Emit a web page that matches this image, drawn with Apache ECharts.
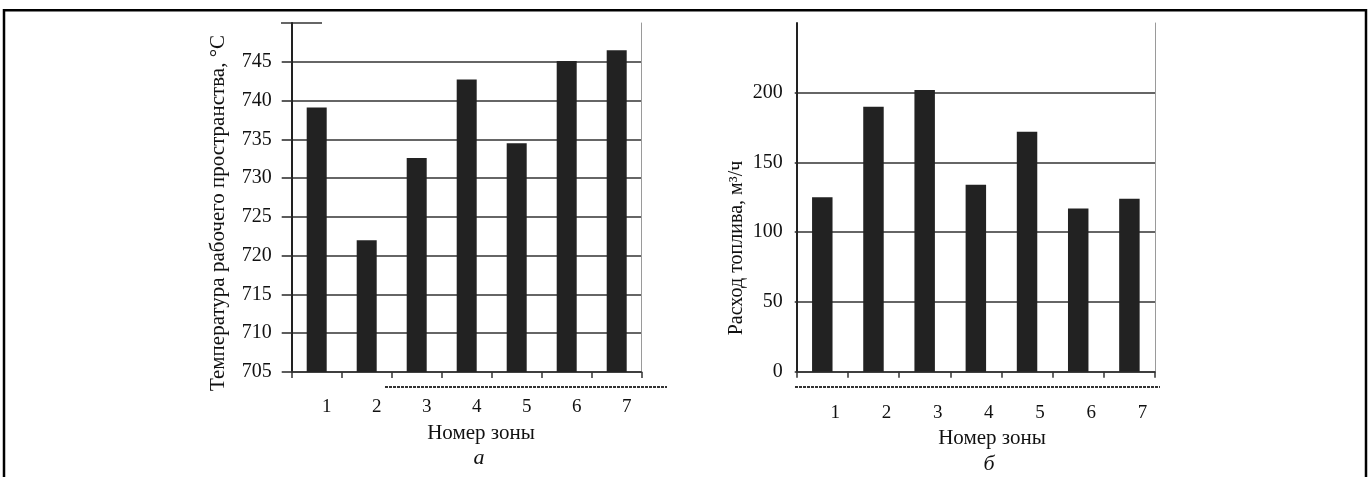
<!DOCTYPE html>
<html>
<head>
<meta charset="utf-8">
<script src="https://cdn.jsdelivr.net/npm/echarts@6/dist/echarts.min.js"></script>
<style>
html,body{margin:0;padding:0;background:#fff;}
#c{width:1369px;height:477px;}
</style>
</head>
<body>
<div id="c"></div>
<script>
const zones = ['1','2','3','4','5','6','7'];
const tempValues = [739.1, 722.0, 732.6, 742.7, 734.5, 745.1, 746.5];
const fuelValues = [125, 190, 202, 134, 172, 117, 124];
const tempAxis = {min: 705, max: 750, interval: 5};
const fuelAxis = {min: 0, max: 250, interval: 50};
const tempTitle = 'Температура рабочего пространства, °С';
const fuelTitle = 'Расход топлива, м³/ч';
const xTitle = 'Номер зоны';
const subLabels = ['а', 'б'];

const FONT = '"Liberation Serif", "Times New Roman", serif';
const TXT = '#111';
const GRID_C = '#333';

const chart = echarts.init(document.getElementById('c'), null, {renderer: 'canvas'});

function xAx(gridIndex, pad, margin) {
  return {
    type: 'category', gridIndex, data: zones,
    boundaryGap: true,
    axisLine: {show: true, lineStyle: {color: '#333', width: 1.5}},
    axisTick: {show: true, length: 6, inside: false, lineStyle: {color: '#333', width: 1.5}},
    axisLabel: {fontFamily: FONT, fontSize: 19, color: TXT, margin, padding: [0, 0, 0, pad]},
    splitLine: {show: false}
  };
}
function yAx(gridIndex, ax, tickLen, margin) {
  return {
    type: 'value', gridIndex, min: ax.min, max: ax.max, interval: ax.interval,
    axisLine: {show: true, onZero: false, lineStyle: {color: '#222', width: 2}},
    axisTick: {show: tickLen > 0, length: tickLen, lineStyle: {color: GRID_C, width: 1.6}},
    axisLabel: {fontFamily: FONT, fontSize: 20, color: TXT, margin, showMaxLabel: false},
    splitLine: {show: true, showMaxLine: false, lineStyle: {color: GRID_C, width: 1.6}}
  };
}
function yRight(gridIndex, ax) {
  return {
    type: 'value', gridIndex, position: 'right', min: ax.min, max: ax.max, interval: ax.interval,
    axisLine: {show: true, lineStyle: {color: '#9a9a9a', width: 1}},
    axisTick: {show: false}, axisLabel: {show: false}, splitLine: {show: false}
  };
}

const option = {
  backgroundColor: '#fff',
  animation: false,
  grid: [
    {left: 291.7, top: 23, width: 350, height: 349},
    {left: 796.7, top: 23, width: 358.3, height: 348.7}
  ],
  xAxis: [xAx(0, 20, 26), xAx(1, 26, 32)],
  yAxis: [yAx(0, tempAxis, 10, 20), yAx(1, fuelAxis, 2, 14), yRight(0, tempAxis), yRight(1, fuelAxis)],
  series: [
    {type: 'bar', xAxisIndex: 0, yAxisIndex: 0, data: tempValues, barWidth: '40%',
     itemStyle: {color: '#222'}},
    {type: 'bar', xAxisIndex: 1, yAxisIndex: 1, data: fuelValues, barWidth: '40%',
     itemStyle: {color: '#222'}}
  ],
  graphic: [
    {type: 'polyline', shape: {points: [[4, 477], [4, 10.3], [1366, 10.3], [1366, 477]]},
     style: {stroke: '#000', lineWidth: 2.5, fill: null}, silent: true},
    {type: 'line', shape: {x1: 281, y1: 23, x2: 322, y2: 23}, style: {stroke: '#333', lineWidth: 1.6}},
    {type: 'line', shape: {x1: 385, y1: 387, x2: 667, y2: 387}, style: {stroke: '#333', lineWidth: 2, lineDash: [3, 1]}},
    {type: 'line', shape: {x1: 795, y1: 387, x2: 1160, y2: 387}, style: {stroke: '#333', lineWidth: 2, lineDash: [3, 1]}},
    {type: 'text', x: 218, y: 213, rotation: Math.PI / 2,
     style: {text: tempTitle, font: '21px ' + FONT, fill: TXT, align: 'center', verticalAlign: 'middle'}},
    {type: 'text', x: 737, y: 248, rotation: Math.PI / 2,
     style: {text: fuelTitle, font: '20px ' + FONT, fill: TXT, align: 'center', verticalAlign: 'middle'}},
    {type: 'text', x: 481, y: 433,
     style: {text: xTitle, font: '21px ' + FONT, fill: TXT, align: 'center', verticalAlign: 'middle'}},
    {type: 'text', x: 992, y: 438,
     style: {text: xTitle, font: '21px ' + FONT, fill: TXT, align: 'center', verticalAlign: 'middle'}},
    {type: 'text', x: 479, y: 458,
     style: {text: subLabels[0], font: 'italic 22px ' + FONT, fill: TXT, align: 'center', verticalAlign: 'middle'}},
    {type: 'text', x: 989, y: 464,
     style: {text: subLabels[1], font: 'italic 22px ' + FONT, fill: TXT, align: 'center', verticalAlign: 'middle'}}
  ]
};
chart.setOption(option);
</script>
</body>
</html>
